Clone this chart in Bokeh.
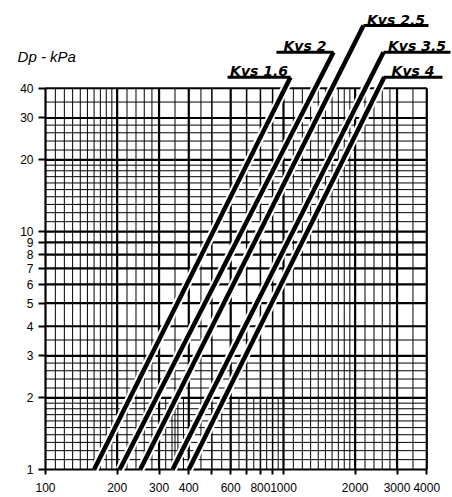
from bokeh.plotting import figure
from bokeh.models import Range1d, FixedTicker, Label
from bokeh.core.properties import value
from bokeh.embed import file_html
from bokeh.resources import INLINE

# ---------------- data ----------------
kvs_labels = ["Kvs 1,6", "Kvs 2", "Kvs 2,5", "Kvs 3,5", "Kvs 4"]
flow_at_1kpa = [160, 205, 250, 342, 400]          # l/h where each line meets Dp = 1 kPa
flow_at_tag = [1070, 1622, 2168, 2632, 2650]      # l/h where each line meets its tag line
dp_at_tag = [44.5, 56.7, 73.4, 56.7, 44.5]        # kPa of the tag line
tag_start = [582, 934, 2168, 2632, 2632]          # l/h, left end of tag line
tag_end = [1070, 1622, 4067, 5031, 4656]          # l/h, right end of tag line

x_ticks = [100, 200, 300, 400, 500, 600, 700, 800, 900, 1000, 2000, 3000, 4000]
x_tick_labels = ["100", "200", "300", "400", "", "600", "", "800", "", "1000", "2000", "3000", "4000"]
x_heavy = [100, 200, 300, 400, 600, 1000, 2000, 3000, 4000]
y_ticks = [1, 2, 3, 4, 5, 6, 7, 8, 9, 10, 20, 30, 40]
y_tick_labels = ["1", "2", "3", "4", "5", "6", "7", "8", "9", "10", "20", "30", "40"]

x_minor_full = [110, 120, 130, 140, 150, 160, 170, 180, 190,
                220, 240, 260, 280, 350, 450,
                1100, 1200, 1300, 1400, 1500, 1600, 1700, 1800, 1900,
                2200, 2400, 2600, 2800, 3500]
x_minor_low = [320, 340, 360, 380, 550, 650, 750, 850, 950]
y_minor = [1.1, 1.2, 1.3, 1.4, 1.5, 1.6, 1.7, 1.8, 1.9,
           2.2, 2.4, 2.6, 2.8, 3.5,
           11, 12, 13, 14, 15, 16, 17, 18, 19,
           22, 24, 26, 28, 35]

X_MIN, X_MAX = 100, 4000
Y_MIN, Y_MAX = 1, 40
Y_SPLIT = 2

# ---------------- figure ----------------
p = figure(width=452, height=497, x_axis_type="log", y_axis_type="log",
           x_range=Range1d(64.7, 5130), y_range=Range1d(0.7627, 93.5),
           output_backend="svg", toolbar_location=None,
           min_border_left=0, min_border_right=0, min_border_top=0, min_border_bottom=0)
p.outline_line_color = None
p.grid.visible = False
p.background_fill_color = "white"
p.border_fill_color = "white"

# grid: minor lines
p.segment(x0=x_minor_full, y0=[Y_MIN] * len(x_minor_full), x1=x_minor_full, y1=[Y_MAX] * len(x_minor_full),
          line_color="black", line_width=1)
p.segment(x0=x_minor_low, y0=[Y_MIN] * len(x_minor_low), x1=x_minor_low, y1=[Y_SPLIT] * len(x_minor_low),
          line_color="black", line_width=1)
p.segment(x0=[X_MIN] * len(y_minor), y0=y_minor, x1=[X_MAX] * len(y_minor), y1=y_minor,
          line_color="black", line_width=1)

# grid: major lines
x_light = [v for v in x_ticks if v not in x_heavy]
p.segment(x0=x_light, y0=[Y_MIN] * len(x_light), x1=x_light, y1=[Y_MAX] * len(x_light),
          line_color="black", line_width=1.5)
p.segment(x0=x_heavy, y0=[Y_MIN] * len(x_heavy), x1=x_heavy, y1=[Y_MAX] * len(x_heavy),
          line_color="black", line_width=2.2)
p.segment(x0=[X_MIN] * len(y_ticks), y0=y_ticks, x1=[X_MAX] * len(y_ticks), y1=y_ticks,
          line_color="black", line_width=2.2)

# Kvs lines (white halo + black stroke)
xs = [[a, b] for a, b in zip(flow_at_1kpa, flow_at_tag)]
ys = [[Y_MIN, d] for d in dp_at_tag]
p.multi_line(xs=xs, ys=ys, line_color="white", line_width=8.5, line_cap="butt")
p.multi_line(xs=xs, ys=ys, line_color="black", line_width=4.5, line_cap="butt")

# tag lines and labels
p.segment(x0=tag_start, y0=dp_at_tag, x1=tag_end, y1=dp_at_tag,
          line_color="black", line_width=3, line_cap="butt")
tag_mid = [(a * b) ** 0.5 for a, b in zip(tag_start, tag_end)]
p.text(x=tag_mid, y=dp_at_tag, text=kvs_labels, text_align="center", text_baseline="alphabetic",
       y_offset=-6, text_font=value("DejaVu Sans"), text_font_style="bold italic",
       text_font_size="14px", text_color="black")

# axes, pinned to the grid edges
for ax, ticks, labels, tout, stand, loc in ((p.xaxis[0], x_ticks, x_tick_labels, 5, 8, Y_MIN),
                                            (p.yaxis[0], y_ticks, y_tick_labels, 7, 5, X_MIN)):
    ax.fixed_location = loc
    ax.ticker = FixedTicker(ticks=ticks, minor_ticks=[])
    ax.major_label_overrides = {float(t): l for t, l in zip(ticks, labels)}
    ax.axis_line_color = None
    ax.major_tick_line_color = "black"
    ax.major_tick_line_width = 2
    ax.major_tick_in = 0
    ax.major_tick_out = tout
    ax.minor_tick_line_color = None
    ax.major_label_standoff = stand
    ax.major_label_text_font = "Liberation Sans"
    ax.major_label_text_font_size = "12px"
    ax.major_label_text_color = "black"

p.add_layout(Label(x=76.3, y=54.4, text="Dp - kPa", text_font="Liberation Sans",
                   text_font_style="italic", text_font_size="15px", text_color="black",
                   text_baseline="alphabetic"))

open("out.html", "w").write(file_html(p, INLINE))
